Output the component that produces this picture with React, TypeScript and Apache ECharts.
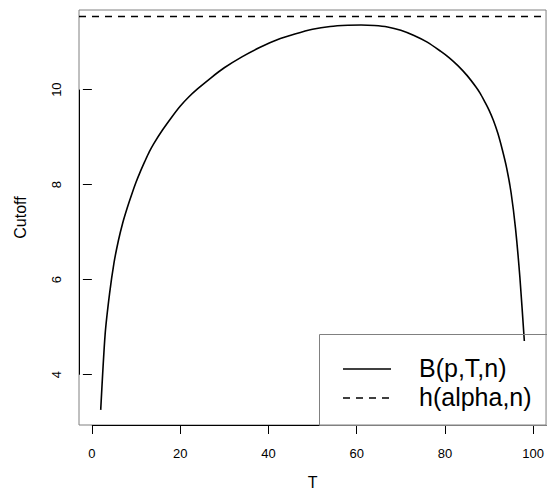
import React, { useEffect, useRef } from "react";
import * as echarts from "echarts";

// Data
const T = [2, 3, 4, 5, 6, 7, 8, 9, 10, 11, 12, 13, 14, 16, 18, 20, 22, 24, 27, 30, 34, 38, 42, 46, 50, 54, 58, 61, 64, 67, 70, 73, 76, 79, 81, 83, 85, 87, 88, 89, 90, 91, 92, 93, 94, 95, 96, 97, 98];
const cutoff = [3.26, 4.85, 5.7, 6.35, 6.82, 7.2, 7.51, 7.79, 8.05, 8.28, 8.49, 8.69, 8.86, 9.15, 9.41, 9.65, 9.85, 10.02, 10.25, 10.46, 10.69, 10.885, 11.05, 11.17, 11.27, 11.33, 11.355, 11.36, 11.35, 11.32, 11.25, 11.14, 11.0, 10.81, 10.67, 10.5, 10.3, 10.06, 9.92, 9.75, 9.57, 9.35, 9.08, 8.74, 8.35, 7.83, 7.08, 6.04, 4.71];
const hAlpha = 11.54;

const xTicks = [0, 20, 40, 60, 80, 100];
const yTicks = [4, 6, 8, 10];
const xLimits = [-2.92, 102.92];
const yLimits = [2.942, 11.676];

const legendLabels = ["B(p,T,n)", "h(alpha,n)"];
const xTitle = "T";
const yTitle = "Cutoff";

const FONT = "'Liberation Sans', Arial, Helvetica, sans-serif";

export default function App() {
  const ref = useRef<HTMLDivElement>(null);

  useEffect(() => {
    if (!ref.current) return;
    const chart = echarts.init(ref.current, undefined, { renderer: "svg" });
    const curve = T.map((t, i) => [t, cutoff[i]]);
    const option: any = {
      animation: false,
      backgroundColor: "#ffffff",
      textStyle: { fontFamily: FONT },
      grid: {
        left: 79,
        top: 10,
        width: 470,
        height: 423,
        show: true,
        borderColor: "#808080",
        borderWidth: 1,
        backgroundColor: "transparent",
      },
      xAxis: {
        type: "value",
        min: xLimits[0],
        max: xLimits[1],
        splitLine: { show: false },
        axisLine: { show: false },
        axisTick: {
          show: true,
          length: 9,
          customValues: xTicks,
          lineStyle: { color: "#000", width: 1 },
        },
        axisLabel: {
          customValues: xTicks,
          color: "#000",
          fontSize: 13,
          fontFamily: FONT,
          margin: 22,
          showMinLabel: true,
          showMaxLabel: true,
        },
        name: xTitle,
        nameLocation: "middle",
        nameGap: 49,
        nameTextStyle: { color: "#000", fontSize: 16, fontFamily: FONT },
      },
      yAxis: {
        type: "value",
        min: yLimits[0],
        max: yLimits[1],
        splitLine: { show: false },
        axisLine: { show: false },
        axisTick: {
          show: true,
          length: 9,
          customValues: yTicks,
          lineStyle: { color: "#000", width: 1 },
        },
        axisLabel: {
          customValues: yTicks,
          color: "#000",
          fontSize: 13,
          fontFamily: FONT,
          rotate: 90,
          margin: 16,
        },
        name: yTitle,
        nameLocation: "middle",
        nameRotate: 90,
        nameGap: 51,
        nameTextStyle: { color: "#000", fontSize: 16, fontFamily: FONT },
      },
      series: [
        {
          type: "line",
          data: curve,
          showSymbol: false,
          symbol: "none",
          smooth: 0.25,
          lineStyle: { color: "#000", width: 1.6 },
          clip: true,
          z: 3,
        },
        {
          type: "line",
          data: [
            [xLimits[0], hAlpha],
            [xLimits[1], hAlpha],
          ],
          showSymbol: false,
          symbol: "none",
          lineStyle: { color: "#000", width: 1.6, type: [7, 6] },
          z: 3,
        },
      ],
    };
    chart.setOption(option);

    // Axis lines spanning the tick range (R style), positioned through the chart's scales
    const px = (v: number[]) => chart.convertToPixel({ gridIndex: 0 }, v) as number[];
    const xa = px([xTicks[0], yLimits[0]]);
    const xb = px([xTicks[xTicks.length - 1], yLimits[0]]);
    const ya = px([xLimits[0], yTicks[0]]);
    const yb = px([xLimits[0], yTicks[yTicks.length - 1]]);
    const axisY = Math.floor(xa[1]) + 0.5;
    const axisX = Math.floor(ya[0]) + 0.5;

    chart.setOption({
      graphic: [
        {
          type: "line",
          shape: { x1: xa[0], y1: axisY, x2: xb[0], y2: axisY },
          style: { stroke: "#000", lineWidth: 1 },
          z: 9,
        },
        {
          type: "line",
          shape: { x1: axisX, y1: ya[1], x2: axisX, y2: yb[1] },
          style: { stroke: "#000", lineWidth: 1 },
          z: 9,
        },
        {
          type: "rect",
          shape: { x: 319.5, y: 334.5, width: 260, height: axisY - 334.5 },
          style: { fill: "transparent", stroke: "#808080", lineWidth: 1 },
          z: 10,
        },
        {
          type: "line",
          shape: { x1: 343, y1: 369, x2: 391, y2: 369 },
          style: { stroke: "#000", lineWidth: 1.6 },
          z: 10,
        },
        {
          type: "line",
          shape: { x1: 343, y1: 398, x2: 391, y2: 398 },
          style: { stroke: "#000", lineWidth: 1.6, lineDash: [7, 6] },
          z: 10,
        },
        {
          type: "text",
          x: 419,
          y: 368,
          style: {
            text: legendLabels[0],
            fill: "#000",
            font: `25px ${FONT}`,
            verticalAlign: "middle",
          },
          z: 10,
        },
        {
          type: "text",
          x: 419,
          y: 397,
          style: {
            text: legendLabels[1],
            fill: "#000",
            font: `25px ${FONT}`,
            verticalAlign: "middle",
          },
          z: 10,
        },
      ],
    });
    return () => chart.dispose();
  }, []);

  return (
    <div
      ref={ref}
      style={{ position: "fixed", left: 0, top: 0, width: 547, height: 495, background: "#fff" }}
    />
  );
}
